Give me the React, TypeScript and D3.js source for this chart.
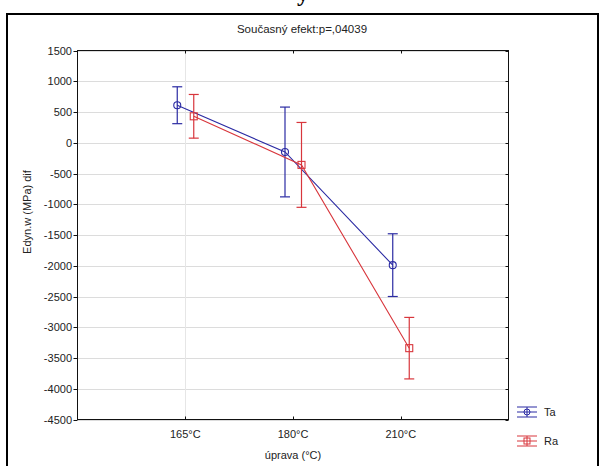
import React from 'react';
import * as d3 from 'd3';

// categories and values
const categories = ['165°C', '180°C', '210°C'];
const yTicks = [1500, 1000, 500, 0, -500, -1000, -1500, -2000, -2500, -3000, -3500, -4000, -4500];

const taMean = [610, -150, -1990];
const taLow = [310, -880, -2500];
const taHigh = [910, 580, -1480];

const raMean = [430, -360, -3340];
const raLow = [75, -1050, -3840];
const raHigh = [785, 330, -2840];

const seriesNames = ['Ta', 'Ra'];

const BLUE = '#2b2ba3';
const RED = '#d8363c';
const FONT = 'Liberation Sans, Arial, sans-serif';

const App = () => {
  const W = 604;
  const H = 466;
  const plot = { left: 77.5, right: 508.5, top: 50.5, bottom: 419.5 };

  const x = d3.scaleLinear().domain([0, 4]).range([plot.left, plot.right]);
  const y = d3.scaleLinear().domain([-4500, 1500]).range([plot.bottom, plot.top]);

  const series = [
    { name: seriesNames[0], mean: taMean, low: taLow, high: taHigh, color: BLUE, dx: -8, shape: 'circle' },
    { name: seriesNames[1], mean: raMean, low: raLow, high: raHigh, color: RED, dx: 8.5, shape: 'square' },
  ];

  const line = d3
    .line<number>()
    .x((d, i) => x(i + 1))
    .y(d => y(d));

  return (
    <svg width={W} height={H} style={{ position: 'absolute', left: 0, top: 0, background: '#fff' }} fontFamily={FONT}>
      {/* cut-off caption glyph above the figure */}
      <text x={303} y={1} textAnchor="middle" fontSize={24} fontWeight="bold" fontFamily="Liberation Serif, serif" fill="#000">
        y
      </text>

      {/* outer frame */}
      <rect x={7} y={14} width={591} height={470} fill="none" stroke="#000" strokeWidth={2} />

      <text x={302} y={33} textAnchor="middle" fontSize={11.5} fill="#222">
        Současný efekt:p=,04039
      </text>

      {/* grid */}
      {yTicks.map(t => (
        <line key={'g' + t} x1={plot.left} x2={plot.right} y1={Math.round(y(t)) + 0.5} y2={Math.round(y(t)) + 0.5} stroke="#dcdcdc" />
      ))}
      <line x1={Math.round(x(1)) + 0.5} x2={Math.round(x(1)) + 0.5} y1={plot.top} y2={plot.bottom} stroke="#e6e6e6" />

      {/* frame of plot */}
      <rect x={plot.left} y={plot.top} width={plot.right - plot.left} height={plot.bottom - plot.top} fill="none" stroke="#111" />

      {/* y ticks */}
      {yTicks.map(t => (
        <g key={'t' + t}>
          <line x1={plot.left - 4} x2={plot.left} y1={Math.round(y(t)) + 0.5} y2={Math.round(y(t)) + 0.5} stroke="#111" />
          <line x1={plot.right - 3} x2={plot.right} y1={Math.round(y(t)) + 0.5} y2={Math.round(y(t)) + 0.5} stroke="#111" />
          <text x={72} y={y(t) + 4} textAnchor="end" fontSize={11} fill="#222">
            {t}
          </text>
        </g>
      ))}

      {/* x ticks */}
      {categories.map((c, i) => (
        <g key={c}>
          <line x1={Math.round(x(i + 1)) + 0.5} x2={Math.round(x(i + 1)) + 0.5} y1={plot.bottom} y2={plot.bottom - 3} stroke="#111" />
          <line x1={Math.round(x(i + 1)) + 0.5} x2={Math.round(x(i + 1)) + 0.5} y1={plot.top} y2={plot.top + 3} stroke="#111" />
          <text x={x(i + 1)} y={438} textAnchor="middle" fontSize={11} fill="#222">
            {c}
          </text>
        </g>
      ))}

      <text x={293} y={459} textAnchor="middle" fontSize={11} fill="#222">
        úprava (°C)
      </text>
      <text transform="translate(31,212) rotate(-90)" textAnchor="middle" fontSize={11} fill="#222">
        Edyn.w (MPa) dif
      </text>

      {/* series */}
      {series.map(s => (
        <g key={s.name} transform={`translate(${s.dx},0)`}>
          <path d={line(s.mean) || ''} fill="none" stroke={s.color} strokeWidth={1.1} />
          {s.mean.map((m, i) => {
            const cx = x(i + 1);
            return (
              <g key={i}>
                <line x1={cx} x2={cx} y1={y(s.low[i])} y2={y(s.high[i])} stroke={s.color} strokeWidth={1.2} />
                <line x1={cx - 5} x2={cx + 5} y1={y(s.low[i])} y2={y(s.low[i])} stroke={s.color} strokeWidth={1.2} />
                <line x1={cx - 5} x2={cx + 5} y1={y(s.high[i])} y2={y(s.high[i])} stroke={s.color} strokeWidth={1.2} />
                {s.shape === 'circle' ? (
                  <circle cx={cx} cy={y(m)} r={3.5} fill="none" stroke={s.color} strokeWidth={1.1} />
                ) : (
                  <rect x={cx - 3.5} y={y(m) - 3.5} width={7} height={7} fill="none" stroke={s.color} strokeWidth={1.1} />
                )}
              </g>
            );
          })}
        </g>
      ))}

      {/* legend */}
      {series.map((s, i) => {
        const ly = 412 + i * 29;
        const lx = 527;
        return (
          <g key={'l' + s.name}>
            <line x1={lx - 10} x2={lx + 10} y1={ly - 5} y2={ly - 5} stroke={s.color} />
            <line x1={lx - 10} x2={lx + 10} y1={ly} y2={ly} stroke={s.color} />
            <line x1={lx - 10} x2={lx + 10} y1={ly + 5} y2={ly + 5} stroke={s.color} />
            <line x1={lx} x2={lx} y1={ly - 5} y2={ly + 5} stroke={s.color} />
            {s.shape === 'circle' ? (
              <circle cx={lx} cy={ly} r={3} fill="none" stroke={s.color} />
            ) : (
              <rect x={lx - 3} y={ly - 3} width={6} height={6} fill="none" stroke={s.color} />
            )}
            <text x={544} y={ly + 4} fontSize={11} fill="#222">
              {s.name}
            </text>
          </g>
        );
      })}
    </svg>
  );
};

export default App;
